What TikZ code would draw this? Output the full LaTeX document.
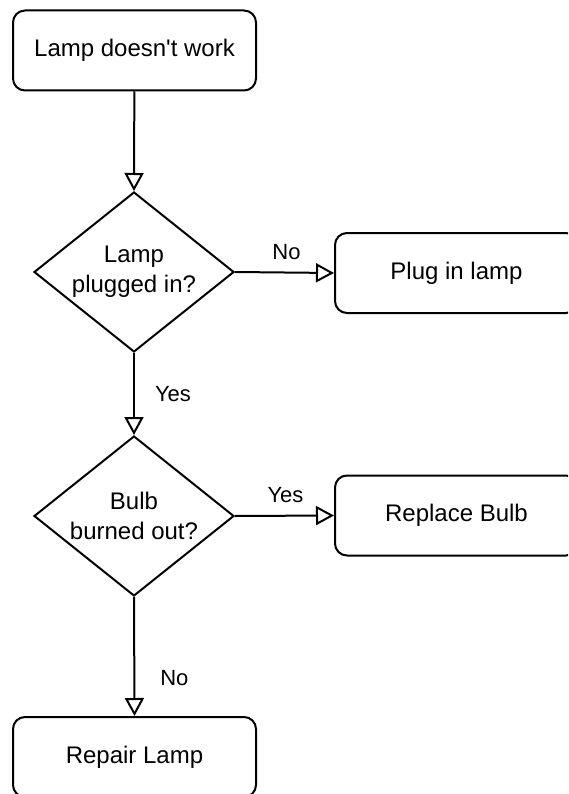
\documentclass[tikz,border=0pt]{standalone}
\usepackage{fontspec}
\newfontfamily\arialfont{Liberation Sans}
\usetikzlibrary{shapes.geometric,arrows.meta}
\begin{document}
\begin{tikzpicture}[x=1pt,y=-1pt,
 every node/.style={font=\arialfont\fontsize{24}{30}\selectfont},
 proc/.style={draw, rounded corners=12pt, minimum width=243pt, minimum height=80pt, inner sep=0pt, line width=2pt},
 dec/.style={draw, diamond, minimum width=200pt, minimum height=160pt, inner sep=0pt, line width=2pt},
 conn/.style={line width=2pt, -{Triangle[open,length=18pt,width=19pt]}},
 lbl/.style={font=\arialfont\fontsize{22}{26}\selectfont}]
\useasboundingbox (0,0) rectangle (568,794);
\clip (0,0) rectangle (568,794);
\node[proc] (start) at (134.5,50.5) {Lamp doesn't work};
\node[dec, label={[align=center]center:Lamp\\plugged in?}] (d1) at (134,272) {};
\node[proc] (plug) at (456.5,273) {Plug in lamp};
\node[dec, label={[align=center]center:Bulb\\burned out?}] (d2) at (134,516) {};
\node[proc] (bulb) at (456.5,515.5) {Replace Bulb};
\node[proc] (repair) at (134.5,757) {Repair Lamp};
\draw[conn] (start) -- (d1.north);
\draw[conn] (d1.east) -- node[lbl, pos=0.52, yshift=20pt] (l1) {No} (plug.west);
\draw[conn] (d1.south) -- node[lbl, pos=0.5, xshift=39pt] (l2) {Yes} (d2.north);
\draw[conn] (d2.east) -- node[lbl, pos=0.51, yshift=21pt] (l3) {Yes} (bulb.west);
\draw[conn] (d2.south) -- node[lbl, pos=0.68, xshift=40pt] (l4) {No} (repair.north);
\end{tikzpicture}
\end{document}
